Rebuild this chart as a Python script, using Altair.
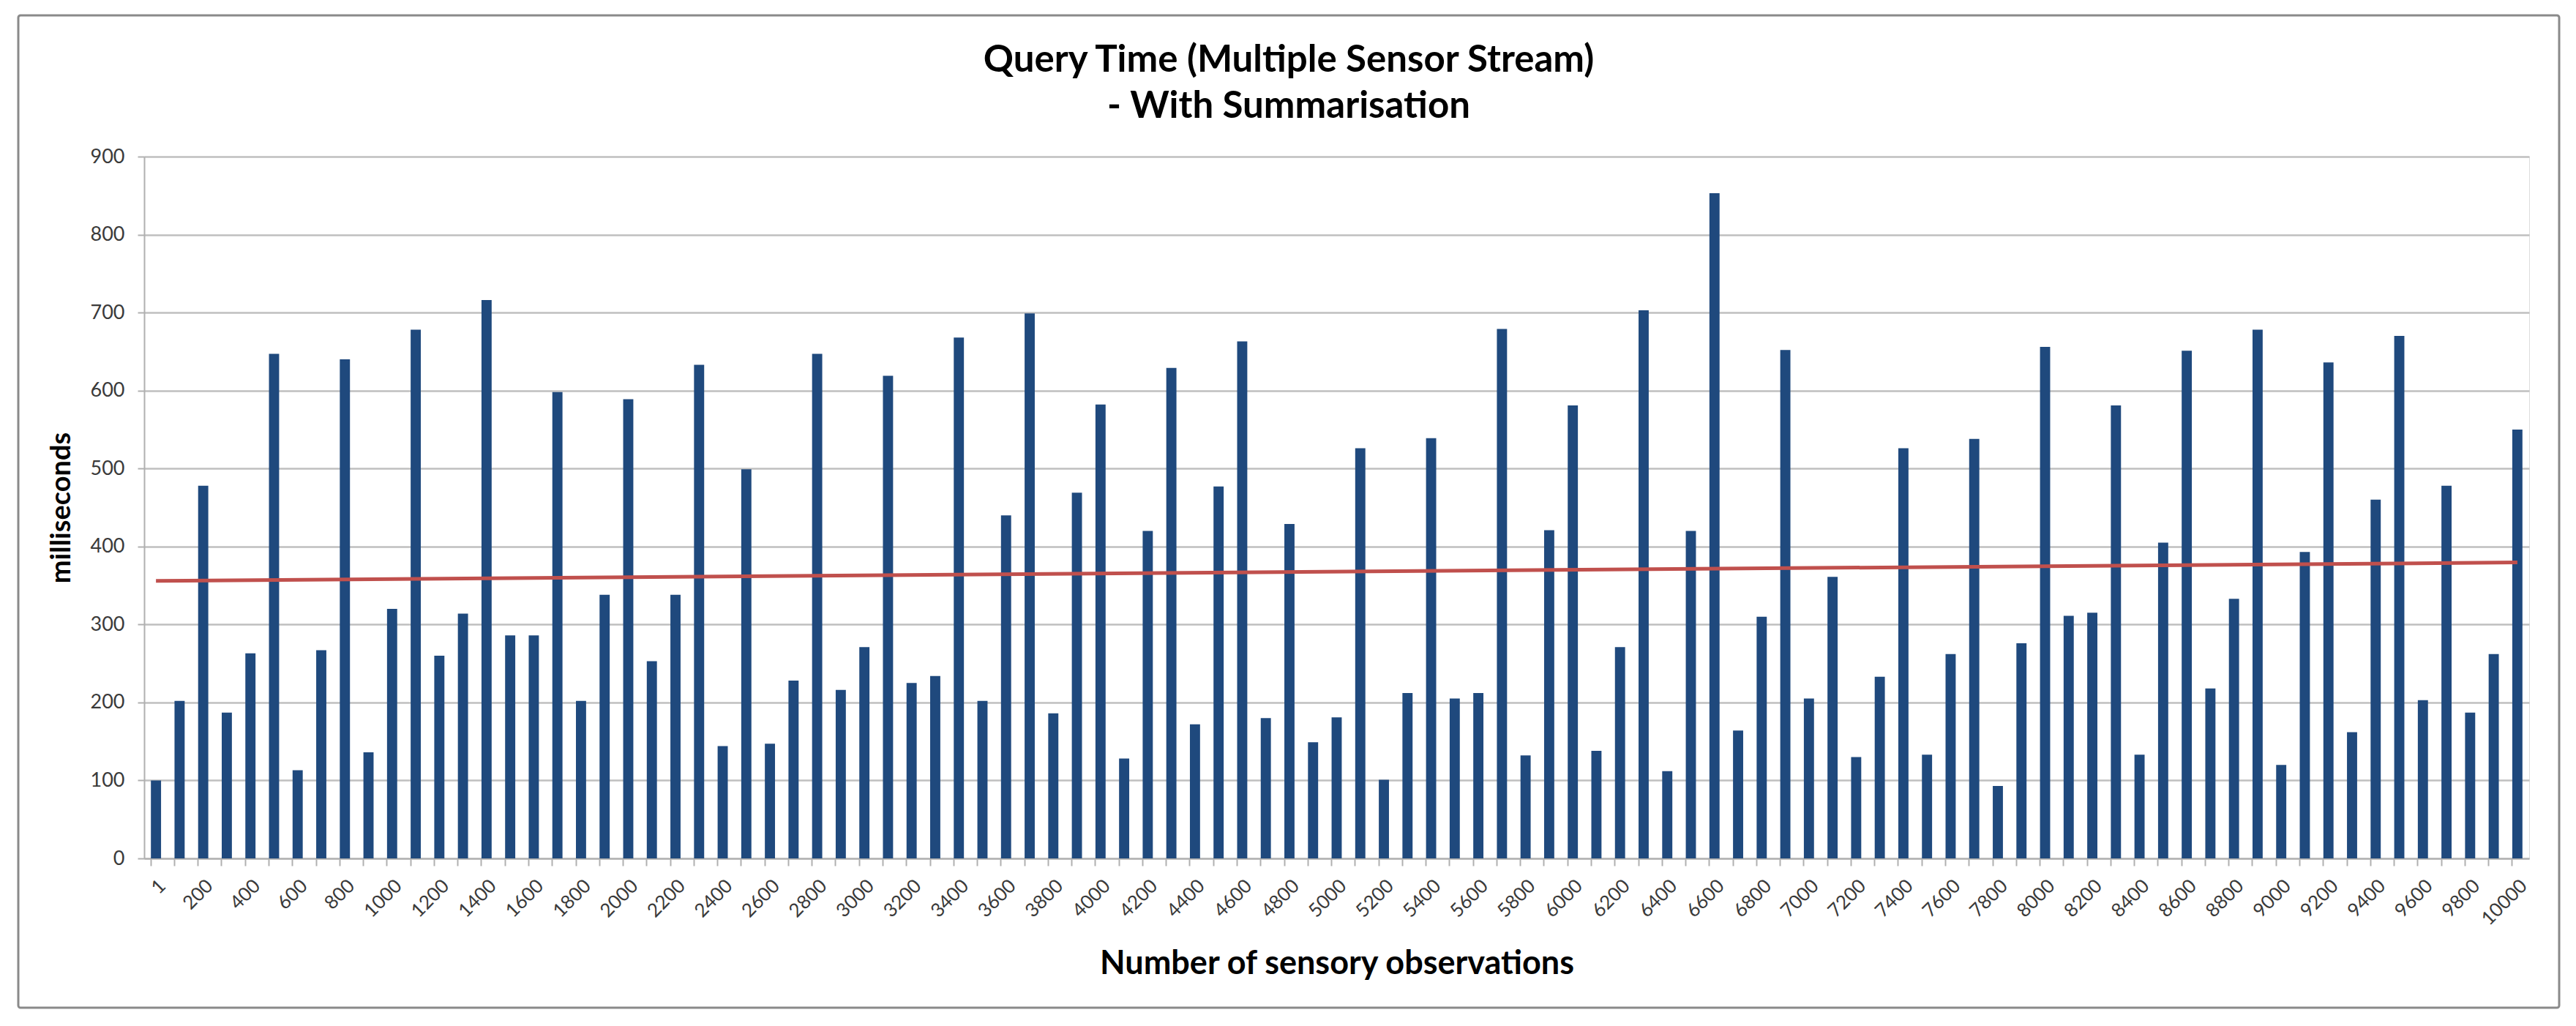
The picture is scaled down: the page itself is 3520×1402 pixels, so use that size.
import altair as alt
import pandas as pd

categories = ["1", "100", "200", "300", "400", "500", "600", "700", "800", "900",
              "1000", "1100", "1200", "1300", "1400", "1500", "1600", "1700", "1800", "1900",
              "2000", "2100", "2200", "2300", "2400", "2500", "2600", "2700", "2800", "2900",
              "3000", "3100", "3200", "3300", "3400", "3500", "3600", "3700", "3800", "3900",
              "4000", "4100", "4200", "4300", "4400", "4500", "4600", "4700", "4800", "4900",
              "5000", "5100", "5200", "5300", "5400", "5500", "5600", "5700", "5800", "5900",
              "6000", "6100", "6200", "6300", "6400", "6500", "6600", "6700", "6800", "6900",
              "7000", "7100", "7200", "7300", "7400", "7500", "7600", "7700", "7800", "7900",
              "8000", "8100", "8200", "8300", "8400", "8500", "8600", "8700", "8800", "8900",
              "9000", "9100", "9200", "9300", "9400", "9500", "9600", "9700", "9800", "9900",
              "10000"]

query_ms = [100, 202, 478, 187, 263, 647, 113, 267, 640, 136,
            320, 678, 260, 314, 716, 286, 286, 598, 202, 338,
            589, 253, 338, 633, 144, 499, 147, 228, 647, 216,
            271, 619, 225, 234, 668, 202, 440, 699, 186, 469,
            582, 128, 420, 629, 172, 477, 663, 180, 429, 149,
            181, 526, 101, 212, 539, 205, 212, 679, 132, 421,
            581, 138, 271, 703, 112, 420, 853, 164, 310, 652,
            205, 361, 130, 233, 526, 133, 262, 538, 93, 276,
            656, 311, 315, 581, 133, 405, 651, 218, 333, 678,
            120, 393, 636, 162, 460, 670, 203, 478, 187, 262,
            550]

label_values = categories[::2]
y_ticks = [0, 100, 200, 300, 400, 500, 600, 700, 800, 900]

df = pd.DataFrame({"obs": categories, "ms": query_ms})

W, H = 3259, 959
FONT = "Lato"

x_band = alt.Scale(domain=categories, paddingInner=0.57, paddingOuter=0.285)
y_scale = alt.Scale(domain=[0, 900], nice=False)

y_axis = alt.Axis(values=y_ticks, title="milliseconds", grid=True,
                  gridColor="#bfbfbf", gridWidth=2.5,
                  domain=True, domainColor="#b0b0b0", domainWidth=2,
                  ticks=True, tickSize=9, tickColor="#b0b0b0", tickWidth=2,
                  labelFontSize=27, labelColor="#3a3a3a", labelFont=FONT, labelPadding=18,
                  titleFontSize=38, titleFont=FONT, titleFontWeight="bold",
                  titleColor="#000000", titlePadding=20)

frame = alt.Chart(alt.Data(values=[{}])).mark_rect(
    fillOpacity=0, stroke="#8a8a8a", strokeWidth=3, cornerRadius=3
).encode(x=alt.value(-172), x2=alt.value(W + 41), y=alt.value(-193), y2=alt.value(H + 204))

bars = alt.Chart(df).mark_bar(color="#1F497D").encode(
    x=alt.X("obs:N", sort=categories, scale=x_band,
            axis=alt.Axis(orient="bottom", labels=False, title=None, grid=False,
                          ticks=True, tickSize=10, tickColor="#b0b0b0", tickWidth=2,
                          bandPosition=0, domain=True, domainColor="#b0b0b0", domainWidth=2)),
    y=alt.Y("ms:Q", scale=y_scale, axis=y_axis),
)

labels = alt.Chart(df).mark_bar(opacity=0).encode(
    x=alt.X("obs:N", sort=categories, scale=x_band,
            axis=alt.Axis(orient="bottom", values=label_values, ticks=False, domain=False,
                          grid=False, labelAngle=-45, labelFontSize=26, labelFont=FONT,
                          labelColor="#3a3a3a", labelPadding=24,
                          title="Number of sensory observations", titleFont=FONT,
                          titleFontSize=45, titleFontWeight="bold", titleColor="#000000",
                          titlePadding=26)),
    y=alt.Y("ms:Q", scale=y_scale),
)

trend = alt.Chart(df).transform_window(
    idx="row_number()"
).transform_regression(
    "idx", "ms", method="linear", extent=[1, 101]
).mark_line(color="#C0504D", strokeWidth=5).encode(
    x=alt.X("idx:Q", scale=alt.Scale(domain=[0.5, 101.5], nice=False, zero=False), axis=None),
    y=alt.Y("ms:Q", scale=y_scale),
)

chart = alt.layer(frame, bars, labels, trend).resolve_scale(
    x="independent"
).resolve_axis(
    x="independent"
).properties(
    width=W, height=H,
    padding={"left": 15, "top": 11, "right": 10, "bottom": 10},
    title=alt.TitleParams(
        text=["Query Time (Multiple Sensor Stream)", "- With Summarisation"],
        font=FONT, fontSize=51, fontWeight="bold", color="#000000",
        anchor="middle", frame="bounds", lineHeight=63, offset=-152,
    ),
).configure_view(stroke=None).configure(background="white")

chart.save("out.html", embed_options={"renderer": "svg", "actions": False})
